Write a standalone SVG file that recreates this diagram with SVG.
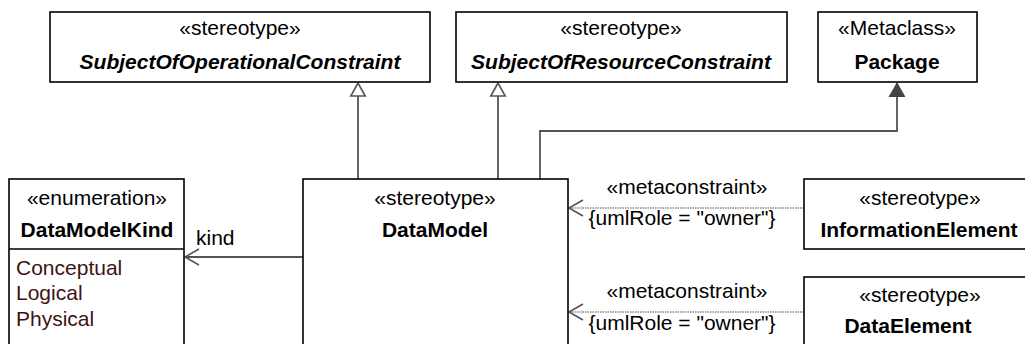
<svg xmlns="http://www.w3.org/2000/svg" width="1025" height="344" viewBox="0 0 1025 344">
<style>
text{font-family:"Liberation Sans",Arial,sans-serif;font-size:21px;fill:#000}
.c{text-anchor:middle}
.b{font-weight:bold}
.bi{font-weight:bold;font-style:italic}
.lit{fill:#3c1414}
.box{fill:#fff;stroke:#000;stroke-width:1.6}
.ln{fill:none;stroke:#555;stroke-width:1.8}
.dot{fill:none;stroke:#888;stroke-width:1.6;stroke-dasharray:1.5 1}
</style>
<defs>
<marker id="gen" markerUnits="userSpaceOnUse" markerWidth="20" markerHeight="20" refX="14" refY="8" orient="auto" viewBox="0 0 20 16">
<path d="M14,8 L1,0.8 L1,15.2 Z" fill="#fff" stroke="#555" stroke-width="1.6"/>
</marker>
<marker id="fill" markerUnits="userSpaceOnUse" markerWidth="20" markerHeight="20" refX="14" refY="8" orient="auto" viewBox="0 0 20 16">
<path d="M14,8 L0,0 L0,16 Z" fill="#444" stroke="#444" stroke-width="1"/>
</marker>
<marker id="open" markerUnits="userSpaceOnUse" markerWidth="20" markerHeight="20" refX="15" refY="9" orient="auto" viewBox="0 0 20 18">
<path d="M1,1 L15,9 L1,17" fill="none" stroke="#555" stroke-width="1.6"/>
</marker>
</defs>
<g id="connectors">
<path class="ln" d="M358,179 V83" marker-end="url(#gen)"/>
<path class="ln" d="M498,179 V83" marker-end="url(#gen)"/>
<path class="ln" d="M540,179 V131 H897 V83" marker-end="url(#fill)"/>
<path class="ln" d="M303,257 H185" marker-end="url(#open)"/>
<path class="dot" d="M804,208 H569" marker-end="url(#open)"/>
<path class="dot" d="M804,312 H569" marker-end="url(#open)"/>
<text x="196" y="245">kind</text>
<text class="c" x="687" y="194">«metaconstraint»</text>
<text class="c" x="682" y="225">{umlRole = "owner"}</text>
<text class="c" x="687" y="298">«metaconstraint»</text>
<text class="c" x="682" y="330">{umlRole = "owner"}</text>
</g>
<g id="SubjectOfOperationalConstraint">
<rect class="box" x="50" y="12" width="380" height="70"/>
<text class="c" x="240" y="35">«stereotype»</text>
<text class="c bi" x="240" y="69">SubjectOfOperationalConstraint</text>
</g>
<g id="SubjectOfResourceConstraint">
<rect class="box" x="456" y="12" width="331" height="70"/>
<text class="c" x="621" y="35">«stereotype»</text>
<text class="c bi" x="621" y="69">SubjectOfResourceConstraint</text>
</g>
<g id="Package">
<rect class="box" x="818" y="12" width="159" height="70"/>
<text class="c" x="897" y="35">«Metaclass»</text>
<text class="c b" x="897" y="69">Package</text>
</g>
<g id="DataModelKind">
<rect class="box" x="9" y="179" width="175" height="180"/>
<line x1="9" y1="249" x2="184" y2="249" stroke="#000" stroke-width="1.6"/>
<text class="c" x="97" y="205">«enumeration»</text>
<text class="c b" x="97" y="237">DataModelKind</text>
<text class="lit" x="16" y="275">Conceptual</text>
<text class="lit" x="16" y="300">Logical</text>
<text class="lit" x="16" y="326">Physical</text>
</g>
<g id="DataModel">
<rect class="box" x="303" y="179" width="265" height="180"/>
<text class="c" x="435" y="205">«stereotype»</text>
<text class="c b" x="435" y="237">DataModel</text>
</g>
<g id="InformationElement">
<rect class="box" x="804" y="179" width="240" height="70"/>
<text class="c" x="920" y="205">«stereotype»</text>
<text class="c b" x="919" y="237">InformationElement</text>
</g>
<g id="DataElement">
<rect class="box" x="804" y="277" width="240" height="80"/>
<text class="c" x="920" y="302">«stereotype»</text>
<text class="c b" x="908" y="333">DataElement</text>
</g>
</svg>
